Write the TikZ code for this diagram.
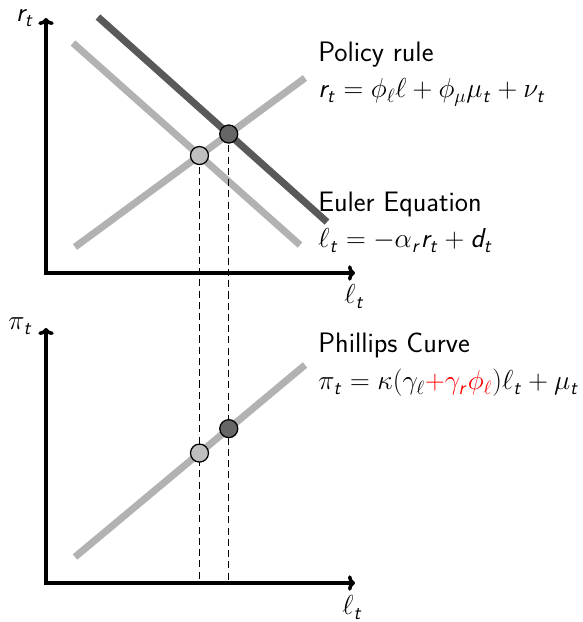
\RequirePackage{fix-cm}
\documentclass[tikz,border=0pt]{standalone}
\usepackage{tikz}
\usetikzlibrary{arrows.meta}
% sans italic latin letters in math, as on the slide
\DeclareSymbolFont{sfitalic}{OT1}{cmss}{m}{sl}
\DeclareMathSymbol{r}{\mathalpha}{sfitalic}{`r}
\DeclareMathSymbol{t}{\mathalpha}{sfitalic}{`t}
\DeclareMathSymbol{d}{\mathalpha}{sfitalic}{`d}
\DeclareMathSizes{20}{19.5}{13.65}{9.75}

\begin{document}
\begin{tikzpicture}[
  font=\sffamily\fontsize{20}{24}\selectfont,
  axis/.style={line width=2.5pt,draw=black,{To[length=5pt,width=11pt]}-{To[length=5pt,width=11pt]}},
  curvL/.style={line width=5pt,draw=black!30},
  curvD/.style={line width=5pt,draw=black!65},
  guide/.style={line width=0.9pt,draw=black,dash pattern=on 5pt off 3pt},
  eqL/.style={circle,draw=black,line width=0.9pt,fill=black!25,minimum size=0.45cm,inner sep=0pt},
  eqD/.style={circle,draw=black,line width=0.9pt,fill=black!60,minimum size=0.45cm,inner sep=0pt},
  lbl/.style={anchor=base west,inner sep=0pt}
]
\useasboundingbox (0,0) rectangle (14.575,15.55);

% ---- axes ----
\coordinate (O1) at (1.15,8.725);
\coordinate (Y1) at (1.15,15.1);
\coordinate (X1) at (8.875,8.725);
\coordinate (O2) at (1.15,0.975);
\coordinate (Y2) at (1.15,7.35);
\coordinate (X2) at (8.875,0.975);
\draw[axis] (Y1) |- (X1);
\draw[axis] (Y2) |- (X2);
\node[inner sep=0pt,anchor=base east] (rlab) at (0.85,15.0) {$r_t$};
\node[inner sep=0pt,anchor=base west] (l1lab) at (8.6,7.95) {$\ell_t$};
\node[inner sep=0pt,anchor=base east] (pilab) at (0.82,7.3) {$\pi_t$};
\node[inner sep=0pt,anchor=base west] (l2lab) at (8.55,0.175) {$\ell_t$};

% ---- curves ----
\coordinate (eulA) at (1.825,14.475); \coordinate (eulB) at (7.5,9.425);
\coordinate (eusA) at (2.45,15.125);  \coordinate (eusB) at (8.175,10.0);
\coordinate (polA) at (1.875,9.375);  \coordinate (polB) at (7.625,13.6);
\coordinate (phiA) at (1.875,1.625);  \coordinate (phiB) at (7.625,6.425);
\draw[curvL] (eulA) -- (eulB);
\draw[curvD] (eusA) -- (eusB);
\draw[curvL] (polA) -- (polB);
\draw[curvL] (phiA) -- (phiB);

% ---- equilibria ----
\coordinate (E0) at (intersection of eulA--eulB and polA--polB);
\coordinate (E1) at (intersection of eusA--eusB and polA--polB);
\coordinate (E0b) at (E0 |- O2);
\coordinate (E1b) at (E1 |- O2);
\coordinate (F0) at (intersection of phiA--phiB and E0--E0b);
\coordinate (F1) at (intersection of phiA--phiB and E1--E1b);
\draw[guide] (E0) -- (E0b);
\draw[guide] (E1) -- (E1b);
\node[eqL] (e0) at (E0) {};
\node[eqD] (e1) at (E1) {};
\node[eqL] (f0) at (F0) {};
\node[eqD] (f1) at (F1) {};

% ---- labels ----
\node[lbl] (polT) at (7.95,14.0) {Policy rule};
\node[lbl] (polE) at (7.95,13.1) {$r_t=\phi_\ell\ell+\phi_\mu\mu_t+\nu_t$};
\node[lbl] (eulT) at (7.95,10.25) {Euler Equation};
\node[lbl] (eulE) at (7.95,9.35) {$\ell_t=-\alpha_r r_t+d_t$};
\node[lbl] (phiT) at (7.95,6.725) {Phillips Curve};
\node[lbl] (phiE) at (7.95,5.8) {$\pi_t=\kappa(\gamma_\ell\textcolor{red}{+\gamma_r\phi_\ell})\ell_t+\mu_t$};

\end{tikzpicture}
\end{document}
